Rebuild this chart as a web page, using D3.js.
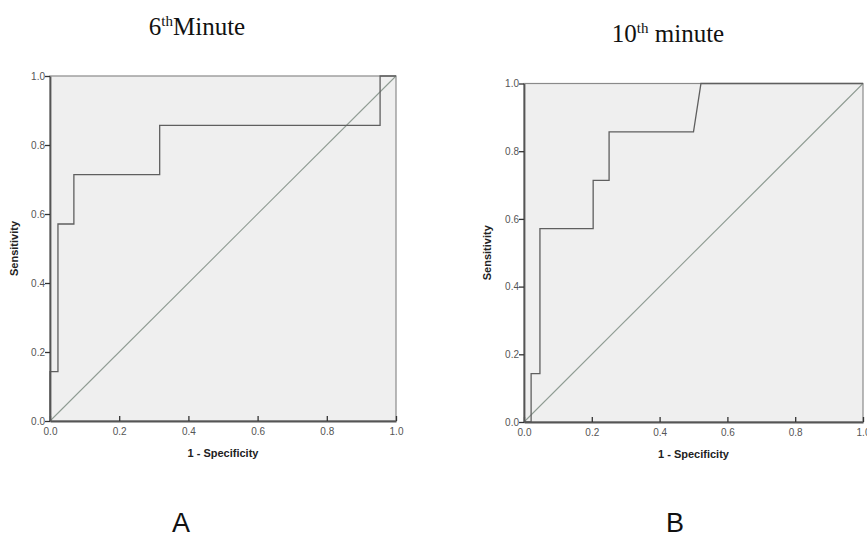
<!DOCTYPE html>
<html>
<head>
<meta charset="utf-8">
<script src="https://cdn.jsdelivr.net/npm/d3@7"></script>
<style>
  body { margin:0; background:#fff; }
  svg { display:block; }
</style>
</head>
<body>
<svg id="chart" width="867" height="538"></svg>
<script>
// ---- data ----
var tickValues = [0, 0.2, 0.4, 0.6, 0.8, 1.0]
var fprA = [0, 0, 0.023, 0.023, 0.069, 0.069, 0.317, 0.317, 0.954, 0.954, 1]
var tprA = [0, 0.143, 0.143, 0.571, 0.571, 0.714, 0.714, 0.857, 0.857, 1, 1]
var fprB = [0, 0.021, 0.021, 0.047, 0.047, 0.204, 0.204, 0.251, 0.251, 0.50, 0.522, 1]
var tprB = [0, 0, 0.143, 0.143, 0.571, 0.571, 0.714, 0.714, 0.857, 0.857, 1, 1]
var refLine = [0, 1]

var svg = d3.select("#chart")

function drawRoc(opt, fpr, tpr)
{
    var g = svg.append("g")

    var xScale = d3.scaleLinear().domain([0, 1]).range([opt.left, opt.right])
    var yScale = d3.scaleLinear().domain([0, 1]).range([opt.bottom, opt.top])

    //---plot background---
    g.append("rect")
    .attr("x", opt.left)
    .attr("y", opt.top)
    .attr("width", opt.right - opt.left)
    .attr("height", opt.bottom - opt.top)
    .attr("fill", "#efefef")
    .attr("stroke", "#8a8a8a")
    .attr("stroke-width", 1.2)

    //---reference diagonal---
    g.append("line")
    .attr("x1", xScale(refLine[0])).attr("y1", yScale(refLine[0]))
    .attr("x2", xScale(refLine[1])).attr("y2", yScale(refLine[1]))
    .attr("stroke", "#8f9c93")
    .attr("stroke-width", 1.1)

    //---roc curve---
    var pts = fpr.map(function(d, i){ return [d, tpr[i]] })
    var line = d3.line()
    .x(function(d){ return xScale(d[0]) })
    .y(function(d){ return yScale(d[1]) })

    g.append("path")
    .datum(pts)
    .attr("d", line)
    .attr("fill", "none")
    .attr("stroke", "#5f5f5f")
    .attr("stroke-width", 1.3)

    //---axes---
    var xAxis = g.append("g")
    .attr("transform", "translate(0," + opt.bottom + ")")
    .call(d3.axisBottom(xScale).tickValues(tickValues).tickFormat(d3.format(".1f")).tickSize(5).tickSizeOuter(0))
    var yAxis = g.append("g")
    .attr("transform", "translate(" + opt.left + ",0)")
    .call(d3.axisLeft(yScale).tickValues(tickValues).tickFormat(d3.format(".1f")).tickSize(5).tickSizeOuter(0))

    ;[xAxis, yAxis].forEach(function(a){
        a.select(".domain").attr("stroke", "#555").attr("stroke-width", 1.8)
        a.selectAll(".tick line").attr("stroke", "#333").attr("stroke-width", 1.3)
        a.selectAll(".tick text")
        .attr("font-family", "Liberation Sans, Arial, sans-serif")
        .attr("font-size", "10px")
        .attr("fill", "#555")
    })
    xAxis.selectAll(".tick line").attr("y1", -5).attr("y2", 0)
    xAxis.selectAll(".tick text").attr("y", 7)
    yAxis.selectAll(".tick text").attr("x", -5)

    //---axis titles---
    g.append("text")
    .attr("x", (opt.left + opt.right) / 2)
    .attr("y", opt.bottom + 36)
    .attr("text-anchor", "middle")
    .attr("font-family", "Liberation Sans, Arial, sans-serif")
    .attr("font-size", "11px")
    .attr("font-weight", "bold")
    .attr("fill", "#222")
    .text("1 - Specificity")

    g.append("text")
    .attr("transform", "translate(" + opt.yLabelX + " " + (opt.top + opt.bottom) / 2 + ")rotate(-90)")
    .attr("text-anchor", "middle")
    .attr("font-family", "Liberation Sans, Arial, sans-serif")
    .attr("font-size", "11px")
    .attr("font-weight", "bold")
    .attr("fill", "#222")
    .text("Sensitivity")

    //---chart title (serif, superscript)---
    var title = g.append("text")
    .attr("x", opt.titleX)
    .attr("y", opt.titleY)
    .attr("text-anchor", "middle")
    .attr("font-family", "Liberation Serif, Times New Roman, serif")
    .attr("font-size", "25px")
    .attr("fill", "#111")
    title.append("tspan").text(opt.titleA)
    title.append("tspan").attr("font-size", "15px").attr("dy", -9).text("th")
    title.append("tspan").attr("dy", 9).text(opt.titleB)

    //---panel letter---
    g.append("text")
    .attr("x", opt.letterX)
    .attr("y", 532)
    .attr("text-anchor", "middle")
    .attr("font-family", "Liberation Sans, Arial, sans-serif")
    .attr("font-size", "27px")
    .attr("fill", "#111")
    .text(opt.letter)
}

drawRoc({left:50, right:396, top:76, bottom:421, yLabelX:18, titleX:197, titleY:35,
         titleA:"6", titleB:"Minute", letter:"A", letterX:181}, fprA, tprA)
drawRoc({left:524, right:863, top:83.5, bottom:422, yLabelX:491, titleX:668, titleY:42,
         titleA:"10", titleB:" minute", letter:"B", letterX:675}, fprB, tprB)
</script>
</body>
</html>
